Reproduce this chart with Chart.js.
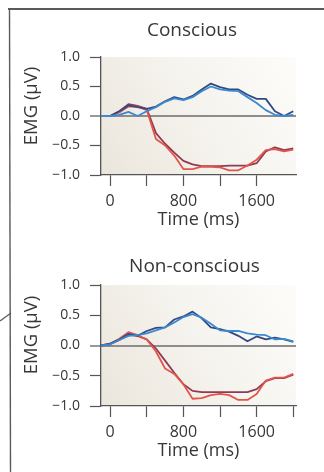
<!DOCTYPE html>
<html>
<head>
<meta charset="utf-8">
<script src="https://cdn.jsdelivr.net/npm/chart.js@4/dist/chart.umd.min.js"></script>
<style>
  html, body { margin: 0; padding: 0; background: #fff; width: 324px; height: 472px; overflow: hidden; }
  svg, canvas { position: absolute; left: 0; }
  svg { top: 0; }
  #conscious { top: 0; }
  #nonconscious { top: 228px; }
</style>
</head>
<body>
<svg width="324" height="472">
  <line x1="8" y1="9" x2="324" y2="9" stroke="#5a5a5a" stroke-width="2"/>
  <line x1="9.5" y1="8" x2="10.5" y2="472" stroke="#5a5a5a" stroke-width="1.4"/>
  <line x1="0" y1="321" x2="11" y2="313" stroke="#5a5a5a" stroke-width="1.2"/>
</svg>
<canvas id="conscious" width="324" height="236"></canvas>
<canvas id="nonconscious" width="324" height="244"></canvas>
<script>
// Sample times (ms) shared by every trace
const timeMs = [-100, 0, 100, 200, 300, 400, 500, 600, 700, 800, 900, 1000,
                1100, 1200, 1300, 1400, 1500, 1600, 1700, 1800, 1900, 2000];

// Conscious condition, EMG (µV)
const consciousNavy   = [0, 0, 0.08, 0.18, 0.15, 0.12, 0.16, 0.25, 0.32, 0.28, 0.34, 0.45,
                         0.55, 0.49, 0.45, 0.45, 0.36, 0.29, 0.29, 0.08, 0.00, 0.08];
const consciousBlue   = [0, 0, 0.02, 0.07, 0.00, 0.08, 0.15, 0.24, 0.30, 0.27, 0.32, 0.42,
                         0.50, 0.45, 0.43, 0.42, 0.32, 0.22, 0.10, 0.02, 0.00, 0.02];
const consciousMaroon = [0, 0, 0.08, 0.20, 0.17, 0.12, -0.29, -0.47, -0.62, -0.76, -0.82, -0.85,
                         -0.85, -0.85, -0.84, -0.84, -0.84, -0.80, -0.60, -0.53, -0.58, -0.55];
const consciousRed    = [0, 0, 0.06, 0.16, 0.16, 0.10, -0.39, -0.50, -0.67, -0.90, -0.90, -0.86,
                         -0.86, -0.87, -0.92, -0.92, -0.84, -0.74, -0.58, -0.56, -0.60, -0.57];

// Non-conscious condition, EMG (µV)
const nonNavy   = [0, 0.03, 0.10, 0.19, 0.16, 0.24, 0.29, 0.30, 0.43, 0.48, 0.56, 0.45,
                   0.30, 0.27, 0.23, 0.16, 0.07, 0.15, 0.10, 0.13, 0.10, 0.06];
const nonBlue   = [0, 0.02, 0.09, 0.16, 0.17, 0.20, 0.25, 0.30, 0.38, 0.47, 0.52, 0.46,
                   0.36, 0.25, 0.24, 0.24, 0.20, 0.18, 0.17, 0.10, 0.11, 0.07];
const nonMaroon = [0, 0.02, 0.09, 0.18, 0.16, 0.10, -0.05, -0.25, -0.45, -0.64, -0.75, -0.77,
                   -0.77, -0.77, -0.77, -0.77, -0.77, -0.72, -0.59, -0.54, -0.54, -0.48];
const nonRed    = [0, 0.03, 0.11, 0.22, 0.17, 0.10, -0.10, -0.38, -0.47, -0.64, -0.88, -0.87,
                   -0.82, -0.80, -0.82, -0.90, -0.90, -0.80, -0.58, -0.53, -0.53, -0.47];

// Axis ticks
const yTickValues = [-1, -0.5, 0, 0.5, 1];
const yTickLabels = ['\u22121.0', '\u22120.5', '0.0', '0.5', '1.0'];
const xTickValuesTop = [0, 400, 800, 1200, 1600];
const xTickValuesBottom = [0, 400, 800, 1200, 1600, 2000];
const xTickLabelFor = { 0: '0', 800: '800', 1600: '1600' };

const FONT = "'Open Sans', 'DejaVu Sans', sans-serif";
const TEXT = '#373737';
const AXIS = '#555555';
const COLORS = { navy: '#314a84', blue: '#3b89cf', maroon: '#8f3b54', red: '#e2564a' };

function series(values) {
  return timeMs.map((t, i) => ({ x: t, y: values[i] }));
}

function makePanel(canvasId, cfg) {
  const decor = {
    id: 'panelDecor',
    beforeDraw(chart) {
      const { ctx, chartArea: a } = chart;
      const g = ctx.createLinearGradient(a.left, a.bottom, a.right, a.top);
      g.addColorStop(0, '#ebe6dc');
      g.addColorStop(0.55, '#f6f4ef');
      g.addColorStop(1, '#fdfcfa');
      ctx.save();
      ctx.fillStyle = g;
      ctx.fillRect(a.left, a.top, a.right - a.left, a.bottom - a.top);
      ctx.restore();
    },
    afterDraw(chart) {
      const { ctx, chartArea: a } = chart;
      ctx.save();
      ctx.fillStyle = TEXT;
      ctx.textBaseline = 'alphabetic';
      ctx.textAlign = 'center';
      ctx.font = "19px " + FONT;
      ctx.fillText(cfg.title, cfg.titleX, cfg.titleBaseline);
      ctx.font = "18px " + FONT;
      ctx.fillText('Time (ms)', (a.left + a.right) / 2, a.bottom + 50);
      ctx.translate(36.5, cfg.yTitleCenter);
      ctx.rotate(-Math.PI / 2);
      ctx.font = "18.5px " + FONT;
      ctx.fillText('EMG (\u00B5V)', 0, 0);
      ctx.restore();
    }
  };

  const line = (data, color) => ({
    data: series(data), borderColor: color, borderWidth: 1.8,
    pointRadius: 0, tension: 0, fill: false, borderJoinStyle: 'round'
  });

  return new Chart(document.getElementById(canvasId), {
    type: 'line',
    data: {
      datasets: [
        line(cfg.blue, COLORS.blue),
        line(cfg.navy, COLORS.navy),
        line(cfg.red, COLORS.red),
        line(cfg.maroon, COLORS.maroon)
      ]
    },
    options: {
      responsive: false,
      animation: false,
      events: [],
      layout: { padding: { top: cfg.areaTop, right: 28, left: 0, bottom: 0 } },
      plugins: { legend: { display: false }, tooltip: { enabled: false }, title: { display: false } },
      scales: {
        x: {
          type: 'linear', min: -100, max: 2030,
          afterBuildTicks: s => { s.ticks = cfg.xTicks.map(v => ({ value: v })); },
          afterFit: s => { s.height = cfg.canvasH - cfg.areaBottom; },
          ticks: {
            autoSkip: false, maxRotation: 0, padding: 6,
            color: TEXT, font: { family: FONT, size: 16 },
            callback: v => xTickLabelFor[v] || ''
          },
          grid: { drawOnChartArea: false, drawTicks: true, tickLength: 11, tickColor: AXIS, tickWidth: 1.2 },
          border: { display: true, color: AXIS, width: 1.3 }
        },
        y: {
          type: 'linear', min: -1, max: 1,
          afterBuildTicks: s => { s.ticks = yTickValues.map(v => ({ value: v })); },
          afterFit: s => { s.width = 101; },
          ticks: {
            padding: 10, color: TEXT, font: { family: FONT, size: 14 },
            callback: v => yTickLabels[yTickValues.indexOf(v)]
          },
          grid: {
            drawOnChartArea: true, drawTicks: true, tickLength: 11,
            color: c => (c.tick && c.tick.value === 0) ? '#8d8d8d' : 'rgba(0,0,0,0)',
            lineWidth: c => (c.tick && c.tick.value === 0) ? 2 : 1,
            tickColor: AXIS, tickWidth: 1.2
          },
          border: { display: true, color: AXIS, width: 1.3 }
        }
      }
    },
    plugins: [decor]
  });
}

makePanel('conscious', {
  title: 'Conscious', titleX: 192, titleBaseline: 35.5, yTitleCenter: 106,
  areaTop: 57, areaBottom: 175, canvasH: 236, xTicks: xTickValuesTop,
  navy: consciousNavy, blue: consciousBlue, maroon: consciousMaroon, red: consciousRed
});

makePanel('nonconscious', {
  title: 'Non-conscious', titleX: 194.5, titleBaseline: 43.7, yTitleCenter: 107,
  areaTop: 57, areaBottom: 178, canvasH: 244, xTicks: xTickValuesBottom,
  navy: nonNavy, blue: nonBlue, maroon: nonMaroon, red: nonRed
});
</script>
</body>
</html>
